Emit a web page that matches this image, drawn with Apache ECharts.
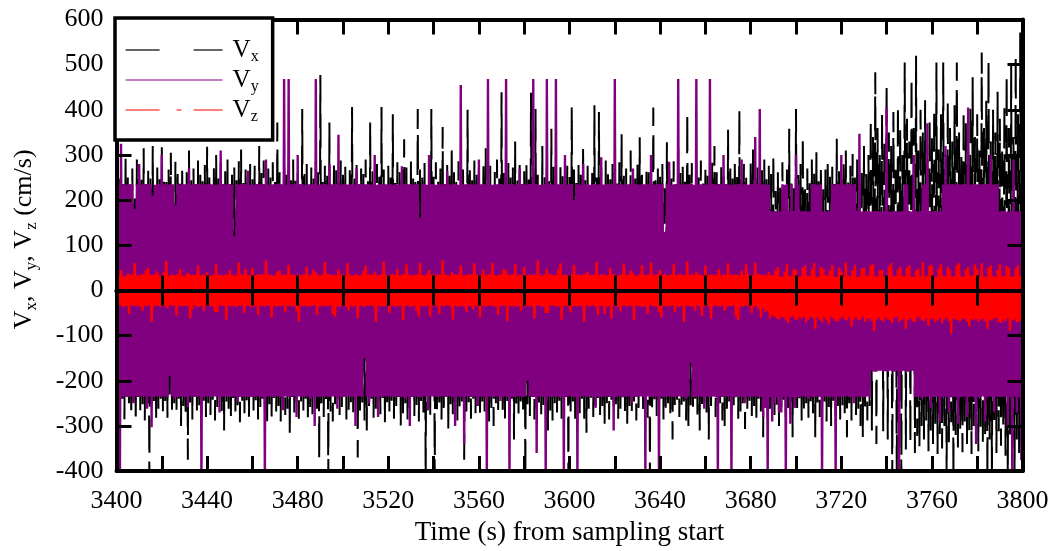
<!DOCTYPE html>
<html><head><meta charset="utf-8">
<script src="https://cdn.jsdelivr.net/npm/echarts@6/dist/echarts.min.js"></script>
<style>html,body{margin:0;padding:0;background:#fff}#c{width:1059px;height:551px}</style>
</head><body><div id="c"></div>
<script>
const seriesNames = ['Vx', 'Vy', 'Vz'];
const xTickLabels = ['3400','3440','3480','3520','3560','3600','3640','3680','3720','3760','3800'];
const yTickLabels = ['-400','-300','-200','-100','0','100','200','300','400','500','600'];
const tStart = 3400;
const sampleStep = 0.5;   // s between samples (all three components)

const vx = [
262,-255,248,-270,275,-240,230,-285,300,-225,255,-262,240,-278,270,-248,215,-292,290,-236,258,-265,245,-252,315,-288,236,-230,265,-420,250,-258,320,-245,228,-290,272,-262,246,-240,
322,-268,252,-245,240,-282,268,-235,305,-272,222,-250,285,-264,258,-240,246,-300,276,-256,234,-278,262,-375,310,-248,244,-286,270,-232,218,-266,288,-254,256,-274,242,-244,278,-280,
318,-250,250,-276,226,-242,274,-288,300,-258,248,-236,282,-270,236,-310,264,-246,290,-262,212,-284,256,-238,272,-268,244,-254,286,-292,312,-244,238,-272,268,-250,254,-280,280,-236,
246,-266,276,-248,232,-286,320,-258,260,-240,288,-274,222,-300,270,-252,250,-282,284,-238,240,-268,372,-256,262,-290,228,-244,330,-276,256,-262,274,-320,244,-236,290,-270,252,-254,
268,-284,236,-246,402,-266,258,-240,280,-288,218,-258,272,-274,248,-236,286,-262,262,-375,477,-250,240,-280,276,-244,254,-420,372,-268,230,-290,282,-252,266,-238,244,-276,288,-260,
256,-242,274,-286,234,-264,266,-250,406,-278,248,-236,284,-370,220,-270,270,-248,258,-288,290,-310,242,-256,372,-240,264,-282,236,-262,280,-246,252,-274,406,-238,268,-292,226,-258,
276,-268,250,-244,390,-284,238,-256,284,-236,262,-300,246,-272,335,-250,272,-286,216,-262,288,-240,256,-278,240,-254,402,-290,268,-246,250,-270,282,-420,232,-258,274,-282,402,-238,
258,-420,284,-266,242,-248,270,-286,362,-260,226,-240,278,-310,254,-252,320,-274,262,-236,240,-290,286,-262,250,-246,274,-375,232,-268,400,-250,266,-284,244,-240,288,-272,256,-256,
270,-282,238,-246,284,-268,315,-238,252,-290,276,-260,228,-300,266,-250,290,-276,248,-242,439,-264,260,-288,236,-254,282,-272,254,-240,272,-330,330,-258,244,-282,278,-246,220,-270,
264,-420,286,-252,246,-278,438,-240,270,-286,402,-262,256,-248,232,-274,320,-256,262,-238,280,-310,242,-266,358,-288,274,-250,250,-270,226,-244,286,-284,262,-258,240,-236,276,-420,
254,-268,405,-246,268,-284,238,-254,284,-272,256,-240,320,-290,244,-315,276,-262,218,-248,266,-280,410,-256,250,-238,395,-276,272,-264,234,-300,288,-250,258,-286,246,-242,280,-270,
262,-252,240,-284,284,-262,346,-240,254,-276,270,-300,228,-256,310,-270,266,-246,248,-288,282,-260,339,-238,256,-274,236,-252,276,-282,262,-420,290,-266,405,-244,244,-278,270,-256,
252,-240,280,-286,238,-264,328,-250,266,-272,248,-330,286,-258,224,-242,315,-280,260,-262,274,-246,242,-288,395,-300,256,-254,282,-270,232,-240,268,-284,250,-310,288,-262,246,-248,
276,-270,254,-330,236,-256,284,-242,320,-280,262,-266,240,-250,278,-288,252,-300,226,-262,356,-246,270,-276,248,-254,286,-240,262,-284,400,-268,244,-250,280,-307,258,-262,234,-244,
284,-278,312,-256,250,-290,272,-240,238,-268,266,-325,290,-252,246,-284,276,-262,258,-246,300,-276,220,-254,262,-300,240,-270,284,-242,210,-288,268,-260,358,-276,248,-325,230,-258,
402,-270,256,-246,280,-288,340,-262,224,-250,270,-282,248,-256,290,-272,262,-325,310,-248,242,-280,276,-262,230,-246,268,-290,288,-258,252,-300,274,-244,236,-276,336,-262,264,-286,
250,-254,282,-272,310,-325,244,-260,276,-288,302,-246,262,-276,290,-262,236,-300,272,-325,320,-270,258,-288,300,-256,380,-310,340,-160,483,-340,360,-150,300,-170,390,-312,330,-165,
457,-330,350,-160,320,-420,395,-150,280,-420,410,-170,360,-420,300,-165,505,-352,380,-160,330,-338,472,-170,360,-360,520,-322,310,-345,400,-300,350,-330,421,-288,290,-356,380,-310,
340,-340,400,-296,505,-362,320,-318,390,-350,505,-300,300,-420,420,-336,360,-292,330,-420,410,-320,505,-348,350,-306,300,-358,400,-290,370,-340,320,-310,415,-362,472,-300,340,-334,
390,-356,310,-302,527,-340,360,-318,420,-420,510,-330,330,-420,400,-296,350,-360,440,-312,380,-344,320,-300,410,-366,478,-420,360,-320,498,-350,340,-420,520,-330,390,-360,571,-340,
400
];

const vy = [
235,-236,234,-420,325,-235,236,-235,234,-236,235,-236,235,-234,236,-250,180,-235,235,-235,280,-236,234,-234,235,-235,236,-262,236,-235,235,-303,210,-236,234,-235,235,-235,236,-236,
300,-235,235,-235,235,-236,234,-190,236,-235,235,-240,190,-236,236,-236,234,-235,235,-235,235,-236,236,-258,270,-235,234,-235,235,-236,236,-236,236,-235,235,-420,234,-236,235,-235,
235,-235,236,-236,235,-236,234,-235,234,-235,235,-270,310,-236,236,-235,235,-234,235,-236,236,-236,234,-235,120,-235,236,-245,234,-236,235,-236,235,-235,236,-235,265,-236,234,-236,
235,-236,234,-235,236,-235,235,-236,235,-236,236,-420,290,-235,234,-235,234,-236,235,-236,235,-235,236,-235,236,-236,235,-265,468,-235,234,-236,468,-236,235,-235,235,-234,236,-280,
300,-235,236,-236,235,-236,234,-235,234,-235,235,-240,235,-236,236,-300,468,-235,234,-236,235,-236,235,-235,236,-235,234,-236,280,-236,235,-235,235,-235,236,-262,345,-236,234,-236,
235,-236,236,-235,234,-235,235,-236,235,-236,234,-300,270,-235,236,-235,236,-236,235,-150,235,-235,236,-250,234,-236,235,-235,300,-236,234,-280,235,-235,236,-236,236,-235,235,-235,
235,-235,236,-236,234,-236,235,-235,235,-235,234,-236,275,-236,236,-240,235,-235,235,-300,236,-236,234,-235,235,-235,236,-236,160,-236,235,-235,235,-234,234,-266,300,-235,236,-235,
235,-235,234,-236,236,-236,235,-235,235,-234,236,-236,265,-235,235,-235,234,-236,236,-300,235,-235,234,-236,455,-236,235,-340,235,-235,236,-235,236,-236,234,-236,235,-235,235,-255,
290,-236,235,-235,235,-236,236,-420,468,-235,234,-236,234,-236,235,-235,235,-235,236,-245,236,-236,234,-235,468,-236,235,-420,235,-235,236,-236,234,-236,235,-235,270,-235,236,-236,
235,-235,234,-200,236,-235,235,-236,468,-236,236,-360,235,-235,234,-235,234,-236,235,-420,468,-235,236,-236,235,-236,234,-235,468,-235,235,-236,235,-236,236,-420,300,-235,234,-235,
235,-235,236,-236,200,-236,235,-420,235,-236,234,-235,280,-235,235,-236,236,-235,234,-235,235,-236,236,-260,234,-235,235,-236,295,-236,234,-235,235,-235,236,-236,236,-235,235,-310,
468,-236,234,-235,235,-235,236,-236,234,-236,235,-235,235,-235,236,-250,270,-236,235,-236,235,-235,234,-235,236,-236,235,-420,235,-235,236,-236,300,-236,235,-235,234,-235,236,-420,
235,-235,236,-236,130,-236,235,-235,285,-235,234,-236,235,-236,236,-235,468,-235,235,-236,234,-236,235,-240,235,-235,236,-160,236,-236,234,-236,468,-235,235,-235,235,-236,234,-262,
234,-235,235,-236,468,-236,236,-235,235,-236,234,-420,236,-235,235,-236,300,-236,236,-235,235,-235,234,-420,234,-236,235,-236,235,-235,236,-235,290,-236,235,-250,235,-235,234,-236,
236,-236,235,-235,340,-235,236,-236,402,-236,235,-280,235,-260,234,-420,234,-236,176,-290,175,-250,176,-236,176,-270,175,-270,235,-236,234,-420,236,-236,175,-295,235,-236,176,-260,
300,-236,234,-236,175,-235,176,-235,176,-236,175,-240,175,-235,235,-236,235,-236,234,-235,234,-236,235,-420,175,-235,176,-236,176,-236,175,-235,235,-236,234,-420,236,-235,235,-236,
300,-236,235,-235,234,-235,236,-236,235,-236,234,-250,236,-235,176,-235,347,-236,175,-236,175,-236,176,-235,176,-236,175,-178,175,-180,176,-180,176,-178,175,-178,175,-179,176,-179,
405,-180,175,-178,175,-179,176,-180,176,-178,175,-420,175,-180,176,-178,235,-179,234,-180,176,-178,175,-178,300,-236,176,-236,175,-235,176,-240,234,-236,235,-236,370,-235,176,-260,
175,-236,176,-236,176,-235,175,-290,175,-236,234,-235,320,-236,235,-270,235,-235,236,-236,234,-236,235,-295,235,-236,234,-236,236,-235,235,-280,405,-236,234,-235,235,-236,236,-340,
234,-236,235,-236,235,-235,236,-290,236,-236,235,-235,300,-236,234,-270,235,-235,236,-236,175,-236,176,-236,176,-235,175,-300,175,-236,176,-420,290,-235,175,-270,175,-236,176,-376,
176
];

const vz = [
34,-32,33,-33,45,-35,31,-36,32,-34,38,-52,35,-33,33,-34,60,-35,34,-33,33,-36,35,-45,36,-34,44,-35,50,-33,34,-70,34,-36,35,-33,42,-34,33,-36,
33,-34,40,-35,65,-40,32,-33,35,-34,34,-33,34,-56,36,-35,48,-35,33,-34,32,-34,38,-35,38,-62,34,-42,34,-33,35,-36,55,-36,33,-34,35,-45,34,-35,
40,-34,33,-35,33,-35,35,-48,58,-48,34,-33,34,-33,33,-34,36,-65,34,-35,45,-35,36,-33,32,-36,34,-35,62,-34,35,-33,35,-50,48,-34,33,-35,34,-36,
50,-36,33,-34,34,-55,36,-33,36,-34,35,-36,66,-33,34,-35,35,-60,33,-34,33,-36,42,-35,44,-35,34,-33,34,-48,36,-34,57,-34,35,-36,35,-33,33,-46,
36,-68,34,-33,34,-35,35,-34,52,-36,33,-35,35,-34,46,-33,40,-55,34,-36,33,-35,35,-34,63,-34,36,-35,36,-33,34,-52,34,-58,33,-35,47,-36,35,-34,
35,-34,33,-36,60,-45,35,-34,33,-36,34,-35,36,-62,33,-34,34,-35,44,-36,55,-34,35,-33,35,-33,34,-36,42,-70,33,-34,34,-36,36,-35,64,-35,34,-33,
33,-50,35,-34,36,-34,34,-36,48,-35,33,-34,35,-66,36,-35,58,-33,34,-36,34,-36,33,-34,36,-45,35,-58,62,-34,34,-35,33,-35,36,-34,45,-58,35,-36,
36,-34,33,-35,35,-52,34,-33,67,-35,36,-34,34,-33,33,-36,40,-64,35,-34,35,-36,34,-35,55,-34,33,-36,33,-47,36,-34,36,-35,35,-42,60,-33,34,-35,
34,-60,35,-33,46,-36,33,-35,35,-34,36,-33,62,-35,34,-36,33,-55,35,-34,36,-33,48,-35,44,-68,34,-33,34,-35,36,-36,58,-34,33,-35,35,-45,34,-33,
52,-36,33,-34,34,-35,35,-36,35,-62,34,-33,66,-34,33,-35,33,-36,36,-50,48,-50,35,-34,36,-33,33,-35,34,-35,46,-36,60,-65,34,-35,35,-34,33,-36,
33,-48,35,-35,57,-35,34,-36,36,-34,33,-35,35,-70,36,-33,42,-36,34,-34,34,-33,35,-36,63,-55,33,-35,35,-34,36,-52,33,-36,34,-35,50,-62,35,-34,
36,-35,33,-36,34,-46,35,-34,60,-34,34,-36,35,-33,44,-35,38,-66,33,-34,33,-35,36,-36,56,-36,34,-35,34,-52,35,-33,62,-34,33,-36,35,-35,36,-48,
45,-60,34,-35,36,-34,33,-36,34,-35,35,-33,58,-48,34,-36,35,-36,36,-35,33,-70,35,-34,64,-34,33,-36,36,-35,34,-45,42,-33,35,-36,34,-56,33,-35,
55,-35,34,-36,35,-62,36,-34,33,-34,35,-35,48,-36,33,-33,36,-45,34,-36,60,-35,35,-34,34,-33,36,-58,35,-66,33,-35,44,-36,34,-34,58,-34,35,-36,
34,-50,33,-36,62,-35,35,-42,36,-60,34,-38,35,-48,33,-45,40,-62,34,-55,33,-58,45,-62,52,-64,31,-58,30,-60,42,-66,58,-72,33,-60,32,-56,48,-64,
45,-66,31,-60,30,-62,50,-58,55,-70,32,-64,32,-58,46,-62,60,-85,30,-60,31,-64,52,-70,48,-60,33,-66,33,-75,44,-58,56,-62,31,-68,30,-68,50,-62,
42,-58,31,-64,62,-66,33,-60,31,-80,45,-64,55,-60,30,-66,30,-64,48,-58,50,-70,32,-62,33,-62,56,-68,58,-90,31,-64,31,-60,44,-66,45,-68,30,-60,
30,-64,52,-66,60,-72,31,-60,32,-58,46,-70,52,-66,33,-62,31,-85,50,-64,56,-62,30,-68,30,-70,44,-60,48,-60,32,-66,62,-68,31,-62,33,-78,55,-64,
55,-62,31,-70,30,-66,48,-60,58,-72,32,-64,31,-60,52,-68,45,-95,30,-62,32,-64,56,-66,60,-68,31,-62,30,-62,46,-70,52,-80,33,-64,33,-66,58,-62,
48,-70,31,-64,60,-62,30,-68,31,-85,50,-66,55,-66,32,-62,30,-60,45,-70,58,-72,31,-64,32,-68,54,-62,50,-90,30,-66,31,-64,48,-70,56,-70,32,-66,
45
];

const FONT = 'Liberation Serif';
function toPoints(vals) { return vals.map((v, i) => [tStart + i * sampleStep, v]); }

const axisLineStyle = { color: '#000', width: 4 };
const tickStyle = { show: true, inside: true, length: 15, lineStyle: { color: '#000', width: 3 } };
const xCommon = { type: 'value', min: 3400, max: 3800, interval: 20, splitLine: { show: false } };
const yCommon = { type: 'value', min: -400, max: 600, interval: 100, splitLine: { show: false } };
const richBase = {
  v: { fontFamily: FONT, fontSize: 26, lineHeight: 31, color: '#000' },
  s: { fontFamily: FONT, fontSize: 17, lineHeight: 17, padding: [15, 0, 0, 0], color: '#000' }
};

const chart = echarts.init(document.getElementById('c'), null, { renderer: 'canvas' });
chart.setOption({
  animation: false,
  backgroundColor: '#fff',
  grid: { left: 115, right: 36.5, top: 19.5, bottom: 79, containLabel: false },
  legend: {
    orient: 'vertical', left: 115, top: 18,
    backgroundColor: '#fff', borderColor: '#000', borderWidth: 3.5,
    padding: [17, 14, 15, 10],
    itemWidth: 97, itemHeight: 14, itemGap: 0,
    selectedMode: false,
    lineStyle: { width: 1.2 },
    itemStyle: { opacity: 0 },
    data: [
      { name: 'Vx', lineStyle: { type: [34, 34], width: 1.2 } },
      { name: 'Vy' },
      { name: 'Vz', lineStyle: { type: [34, 17, 5, 12], width: 1.2 } }
    ],
    formatter: n => '{v|V}{s|' + n.slice(1) + '}',
    textStyle: {
      padding: [0, 0, 0, 5],
      rich: {
        v: { fontFamily: FONT, fontSize: 25, lineHeight: 30, color: '#000' },
        s: { fontFamily: FONT, fontSize: 16, lineHeight: 16, padding: [14, 0, 0, 0], color: '#000' }
      }
    },
    z: 20
  },
  xAxis: [
    Object.assign({}, xCommon, {
      position: 'bottom', z: 10,
      axisLine: { show: true, onZero: false, lineStyle: axisLineStyle },
      axisTick: tickStyle,
      axisLabel: {
        show: true, showMinLabel: true, showMaxLabel: true, margin: 17,
        fontFamily: FONT, fontSize: 26, color: '#000',
        formatter: v => (xTickLabels.indexOf(String(v)) >= 0 ? String(v) : '')
      },
      name: 'Time (s) from sampling start', nameLocation: 'middle', nameGap: 47,
      nameTextStyle: { fontFamily: FONT, fontSize: 27, color: '#000' }
    }),
    Object.assign({}, xCommon, {
      position: 'top', z: 10,
      axisLine: { show: true, onZero: false, lineStyle: axisLineStyle },
      axisTick: tickStyle, axisLabel: { show: false }
    }),
    Object.assign({}, xCommon, {
      position: 'bottom', z: 11,
      axisLine: { show: true, onZero: true, onZeroAxisIndex: 0, lineStyle: axisLineStyle },
      axisTick: tickStyle, axisLabel: { show: false }
    }),
    Object.assign({}, xCommon, {
      position: 'top', z: 11,
      axisLine: { show: true, onZero: true, onZeroAxisIndex: 0, lineStyle: axisLineStyle },
      axisTick: tickStyle, axisLabel: { show: false }
    })
  ],
  yAxis: [
    Object.assign({}, yCommon, {
      position: 'left', z: 10,
      axisLine: { show: true, onZero: false, lineStyle: axisLineStyle },
      axisTick: tickStyle,
      axisLabel: {
        show: true, showMinLabel: true, showMaxLabel: true, margin: 13,
        fontFamily: FONT, fontSize: 26, color: '#000',
        formatter: v => (yTickLabels.indexOf(String(v)) >= 0 ? String(v) : '')
      },
      name: '{v|V}{s|x}{v|, V}{s|y}{v|, V}{s|z}{v| (cm/s)}',
      nameLocation: 'middle', nameGap: 77, nameRotate: 90,
      nameTextStyle: { padding: [0, 0, 0, 12], rich: richBase }
    }),
    Object.assign({}, yCommon, {
      position: 'right', z: 10,
      axisLine: { show: true, onZero: false, lineStyle: axisLineStyle },
      axisTick: tickStyle, axisLabel: { show: false }
    })
  ],
  series: [
    { name: 'Vx', type: 'line', xAxisIndex: 0, yAxisIndex: 0, z: 2, symbol: 'none', silent: true,
      data: toPoints(vx), lineStyle: { color: '#000', width: 2, type: [34, 12] }, itemStyle: { color: '#000' } },
    { name: 'Vy', type: 'line', xAxisIndex: 0, yAxisIndex: 0, z: 3, symbol: 'none', silent: true,
      data: toPoints(vy), lineStyle: { color: '#800080', width: 2.4 }, itemStyle: { color: '#800080' } },
    { name: 'Vz', type: 'line', xAxisIndex: 0, yAxisIndex: 0, z: 4, symbol: 'none', silent: true,
      data: toPoints(vz), lineStyle: { color: '#ff0000', width: 2.4 }, itemStyle: { color: '#ff0000' } }
  ]
});
</script>
</body></html>
